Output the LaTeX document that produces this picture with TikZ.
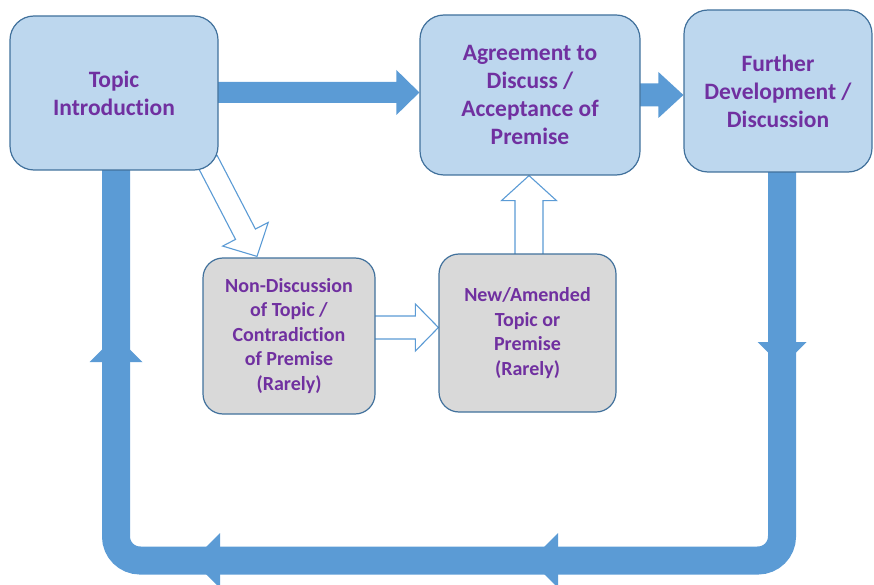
\documentclass[tikz,border=0pt]{standalone}
\usepackage{fontspec}
\setmainfont{Carlito}[Ligatures=CommonOff]
\usetikzlibrary{calc,backgrounds}
\definecolor{boxfill}{HTML}{BDD7EE}
\definecolor{boxline}{HTML}{41719C}
\definecolor{grayfill}{HTML}{D9D9D9}
\definecolor{arrowblue}{HTML}{5B9BD5}
\definecolor{txtpurple}{HTML}{7030A0}
% block arrow: style, from, to, shaft half width, head half width, head length
\newcommand\BlockArrow[6]{%
  \path[#1] ($(#2)!#4!90:(#3)$)
    -- ($(#3)!#6!(#2)!#4!-90:(#2)$)
    -- ($(#3)!#6!(#2)!#5!-90:(#2)$)
    -- (#3)
    -- ($(#3)!#6!(#2)!#5!90:(#2)$)
    -- ($(#3)!#6!(#2)!#4!90:(#2)$)
    -- ($(#2)!#4!-90:(#3)$) -- cycle;}
\begin{document}
\begin{tikzpicture}[x=1pt,y=-1pt,
  bluebox/.style={draw=boxline, line width=1.2pt, fill=boxfill, rounded corners=24pt,
    inner sep=0pt, align=center, text=txtpurple,
    font=\bfseries\fontsize{23.5}{28}\selectfont},
  graybox/.style={draw=boxline, line width=1.2pt, fill=grayfill, rounded corners=20pt,
    inner sep=0pt, align=center, text=txtpurple,
    font=\bfseries\fontsize{20}{24.5}\selectfont},
  band/.style={draw=arrowblue, line width=28pt, rounded corners=24pt},
  solidarrow/.style={fill=arrowblue},
  hollowarrow/.style={draw=arrowblue, fill=white, line width=1.1pt, line join=miter},
  barb/.style={fill=arrowblue}]
\useasboundingbox (0,0) rectangle (874,585);

\node[bluebox, minimum width=208pt, minimum height=154pt] (ti) at (114,93) {Topic\\Introduction};
\node[bluebox, minimum width=220pt, minimum height=160pt] (ag) at (530,95) {Agreement to\\Discuss /\\Acceptance of\\Premise};
\node[bluebox, minimum width=188pt, minimum height=162pt] (fd) at (778,91) {Further\\Development /\\Discussion};
\node[graybox, minimum width=172pt, minimum height=156pt] (nd) at (289,336) {Non-Discussion\\of Topic /\\Contradiction\\of Premise\\(Rarely)};
\node[graybox, minimum width=177pt, minimum height=158pt] (na) at (527.5,333) {New/Amended\\Topic or\\Premise\\(Rarely)};

\coordinate (lb) at (116,560.5);
\coordinate (rb) at (782,560.5);
\coordinate (a1s) at ($(ti.east)+(-4,-0.5)$);
\coordinate (a1e) at ($(ag.west)+(0,-2.5)$);
\coordinate (a2s) at ($(ag.east)+(-4,0)$);
\coordinate (a2e) at ($(fd.west)+(0,4)$);
\coordinate (h1s) at ($(ti.south east)+(-11.4,-10)$);
\coordinate (h1e) at ($(nd.north)+(-32,-1)$);
\coordinate (h2s) at ($(nd.east)+(-4,-8.5)$);
\coordinate (h2e) at ($(na.west)+(0,-5.5)$);
\coordinate (h3s) at ($(na.north)+(1.5,5)$);
\coordinate (h3e) at ($(ag.south)+(-1,0)$);

\begin{scope}[on background layer]
  \draw[band] ($(fd.south)+(4,-5)$) -- (rb) -- (lb) -- ($(ti.south)+(2,-5)$);
  \fill[barb] (757.5,342) -- (806.5,342) -- (782,366.5) -- cycle;
  \fill[barb] (89.5,362) -- (142.5,362) -- (116,335.5) -- cycle;
  \fill[barb] (220,533) -- (220,588) -- (192.5,560.5) -- cycle;
  \fill[barb] (558,533) -- (558,588) -- (530.5,560.5) -- cycle;
  \BlockArrow{solidarrow}{a1s}{a1e}{10.5pt}{22.5pt}{23pt}
  \BlockArrow{solidarrow}{a2s}{a2e}{11.5pt}{23pt}{25pt}
  \BlockArrow{hollowarrow}{h1s}{h1e}{11.2pt}{25.7pt}{25pt}
  \BlockArrow{hollowarrow}{h2s}{h2e}{11.5pt}{23.5pt}{23pt}
  \BlockArrow{hollowarrow}{h3s}{h3e}{14pt}{27.5pt}{25pt}
\end{scope}
\end{tikzpicture}
\end{document}
